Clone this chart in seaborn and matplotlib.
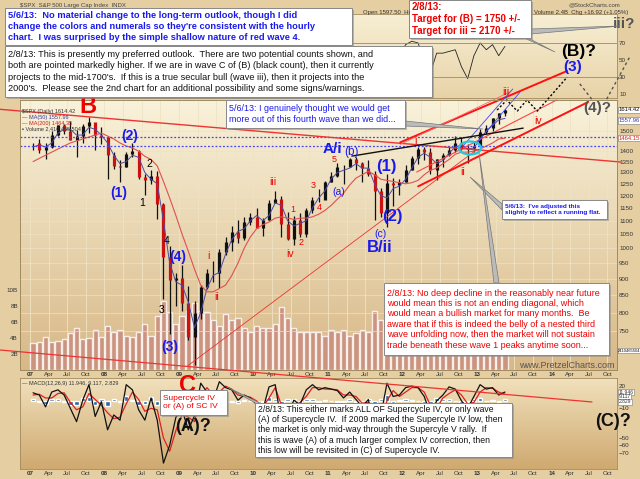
import numpy as np
import pandas as pd
import matplotlib
matplotlib.use("Agg")
import matplotlib.pyplot as plt
import seaborn as sns
from matplotlib.colors import LinearSegmentedColormap
from matplotlib.patches import Rectangle, Ellipse, Polygon

sns.set_style("white")
plt.rcParams["font.family"] = ["Liberation Sans", "DejaVu Sans"]

# monthly SPX values, Jan 2007 .. May 2013
spx_high = [1441, 1461, 1438, 1499, 1535, 1540, 1556, 1504, 1538, 1576, 1545, 1523,
            1472, 1396, 1359, 1397, 1440, 1405, 1292, 1313, 1305, 1170, 1007, 918,
            944, 877, 833, 880, 930, 956, 997, 1040, 1081, 1101, 1113, 1130,
            1150, 1112, 1180, 1220, 1200, 1132, 1120, 1130, 1150, 1196, 1227, 1263,
            1303, 1344, 1333, 1367, 1371, 1346, 1357, 1308, 1230, 1293, 1277, 1270,
            1334, 1378, 1420, 1422, 1415, 1364, 1392, 1427, 1475, 1470, 1434, 1448,
            1509, 1530, 1570, 1598, 1618]
spx_low = [1403, 1390, 1364, 1416, 1476, 1484, 1454, 1371, 1439, 1490, 1407, 1435,
           1271, 1317, 1257, 1324, 1373, 1272, 1201, 1248, 1107, 840, 742, 819,
           805, 729, 667, 783, 869, 889, 870, 978, 992, 1020, 1029, 1085,
           1071, 1045, 1101, 1170, 1040, 1029, 1011, 1040, 1040, 1131, 1173, 1187,
           1257, 1282, 1249, 1325, 1311, 1258, 1283, 1101, 1114, 1075, 1159, 1202,
           1259, 1310, 1340, 1358, 1292, 1267, 1325, 1375, 1396, 1403, 1343, 1398,
           1426, 1485, 1501, 1536, 1582]
spx_close = [1438, 1407, 1421, 1482, 1531, 1503, 1455, 1474, 1527, 1549, 1481, 1468,
             1379, 1331, 1323, 1386, 1400, 1280, 1267, 1283, 1166, 969, 896, 903,
             826, 735, 798, 873, 919, 919, 987, 1021, 1057, 1036, 1096, 1115,
             1074, 1104, 1169, 1187, 1089, 1031, 1102, 1049, 1141, 1183, 1181, 1258,
             1286, 1327, 1326, 1364, 1345, 1321, 1292, 1219, 1131, 1253, 1247, 1258,
             1312, 1366, 1408, 1398, 1310, 1362, 1379, 1407, 1441, 1412, 1416, 1426,
             1498, 1515, 1569, 1598, 1614]
ma50 = [1420, 1430, 1420, 1440, 1490, 1510, 1510, 1480, 1480, 1520, 1510, 1480,
        1440, 1380, 1340, 1350, 1380, 1370, 1300, 1270, 1250, 1100, 950, 890,
        880, 830, 760, 800, 870, 910, 920, 980, 1030, 1060, 1070, 1100,
        1120, 1100, 1120, 1170, 1160, 1100, 1080, 1090, 1100, 1150, 1190, 1220,
        1270, 1300, 1310, 1320, 1340, 1320, 1320, 1250, 1200, 1190, 1230, 1240,
        1270, 1320, 1370, 1390, 1370, 1340, 1355, 1390, 1420, 1430, 1410, 1415,
        1460, 1500, 1530, 1560, 1568]
ma200 = [1350, 1365, 1380, 1395, 1410, 1425, 1440, 1450, 1460, 1470, 1480, 1490,
         1475, 1460, 1440, 1425, 1415, 1400, 1375, 1360, 1330, 1260, 1190, 1120,
         1050, 990, 930, 880, 860, 860, 870, 880, 910, 950, 1000, 1040,
         1070, 1085, 1095, 1110, 1115, 1110, 1105, 1110, 1110, 1115, 1125, 1140,
         1160, 1185, 1210, 1245, 1275, 1290, 1305, 1290, 1270, 1265, 1260, 1255,
         1250, 1255, 1265, 1290, 1310, 1320, 1340, 1360, 1385, 1395, 1395, 1400,
         1410, 1425, 1440, 1460, 1464]
volume_b = [3.4, 3.5, 4.1, 3.5, 3.6, 3.9, 4.6, 5.3, 3.9, 4.0, 5.0, 4.1,
            5.5, 4.8, 5.0, 4.3, 4.1, 4.8, 5.8, 4.3, 6.7, 8.6, 7.2, 5.8,
            6.7, 7.4, 8.4, 7.4, 7.2, 6.2, 5.5, 7.0, 6.2, 6.5, 5.3, 4.8,
            5.5, 5.3, 5.3, 5.8, 7.9, 6.5, 5.3, 4.8, 4.8, 4.8, 4.8, 4.3,
            5.0, 4.8, 5.0, 4.3, 4.6, 5.0, 4.8, 7.4, 6.2, 5.5, 4.8, 4.3,
            4.6, 4.3, 4.1, 4.1, 4.6, 4.6, 3.8, 3.4, 4.1, 4.1, 4.1, 4.1,
            4.1, 4.1, 3.8, 4.1, 3.8]
rsi14 = [60, 45, 55, 68, 70, 55, 40, 50, 62, 58, 40, 48,
         30, 42, 45, 60, 62, 35, 42, 52, 35, 25, 38, 48,
         40, 30, 55, 65, 60, 52, 68, 62, 60, 48, 58, 60,
         40, 58, 70, 65, 35, 35, 55, 42, 65, 66, 55, 70,
         65, 62, 55, 62, 48, 45, 50, 30, 40, 60, 50, 55,
         68, 72, 70, 50, 35, 58, 58, 60, 62, 42, 28, 55,
         70, 62, 68, 55, 66]
macd_line = [11, 8, -8, 12, 15, 8, -10, -28, 1, 22, -21, -1,
             -39, -19, -26, 22, 15, -12, -26, 4, -26, -84, -60, -22,
             -12, -39, -20, 24, 12, 1, 26, 18, 15, 1, 8, 4,
             -5, -12, 19, 22, -30, -19, 1, -5, 15, 22, 15, 18,
             16, 14, 4, 12, 2, -8, 2, -40, -20, 24, 6, 8,
             18, 20, 18, 6, -18, 0, 8, 19, 16, 0, -10, 6,
             22, 16, 18, 8, 12]
macd_signal = [8, 9, 4, 4, 10, 11, -2, -12, -8, 10, 2, -6,
               -16, -24, -22, -4, 12, 2, -14, -10, -12, -50, -68, -40,
               -18, -22, -28, 6, 18, 8, 12, 20, 16, 8, 6, 5,
               0, -8, 4, 18, -6, -24, -8, -2, 6, 18, 18, 16,
               16, 15, 8, 8, 6, -3, -2, -22, -28, 0, 14, 6,
               12, 18, 18, 12, -6, -10, 4, 10, 15, 8, -4, -2,
               12, 18, 17, 12, 9]
macd_hist = [2, -1, -4, 3, 2, -1, -5, -6, 4, 5, -6, 2,
             -7, 3, -2, 7, 1, -5, -4, 5, -5, -12, 4, 8,
             3, -5, 3, 6, -2, -3, 5, -1, -1, -3, 1, 0,
             -2, -1, 5, 2, -8, 2, 3, -1, 3, 2, -1, 1,
             0, -1, -2, 2, -2, -2, 2, -6, 3, 8, -3, 1,
             3, 1, 0, -3, -4, 4, 2, 3, 0, -3, -2, 3,
             4, 0, 1, -2, 3]

df = pd.DataFrame({"high": spx_high, "low": spx_low, "close": spx_close,
                   "ma50": ma50, "ma200": ma200, "vol": volume_b, "rsi": rsi14,
                   "macd": macd_line, "signal": macd_signal, "hist": macd_hist})
df["x"] = 2007 + (np.arange(len(df)) + 0.5) / 12
df["open"] = df["close"].shift(1).fillna(spx_close[0])

# elliott wave labels (text, year, price, colour, size, bold)
RED, BLUE, GRAY = "#ee0000", "#1a1aee", "#555555"
wave_labels = [
    ("B", 2007.78, 1631, RED, 17, True), ("(2)", 2008.34, 1474, BLUE, 10, True),
    ("(1)", 2008.19, 1209, BLUE, 10, True), ("2", 2008.60, 1338, "black", 7.5, False),
    ("1", 2008.50, 1168, "black", 7.5, False), ("4", 2008.84, 1024, "black", 7.5, False),
    ("(4)", 2008.99, 969, BLUE, 10, True), ("3", 2008.76, 808, "black", 7.5, False),
    ("(3)", 2008.87, 711, BLUE, 10, True), ("C", 2009.12, 622, RED, 17, True),
    ("i", 2009.39, 972, RED, 7.5, False), ("ii", 2009.51, 846, RED, 7.5, False),
    ("iii", 2010.26, 1257, RED, 7.5, False), ("iv", 2010.49, 979, RED, 7.5, False),
    ("1", 2010.53, 1145, RED, 6.5, False), ("2", 2010.64, 1020, RED, 6.5, False),
    ("3", 2010.80, 1243, RED, 6.5, False), ("4", 2010.88, 1152, RED, 6.5, False),
    ("5", 2011.08, 1362, RED, 6.5, False), ("A/i", 2011.06, 1410, BLUE, 11, True),
    ("(b)", 2011.31, 1398, BLUE, 8.5, False), ("(a)", 2011.15, 1213, BLUE, 7.5, False),
    ("(1)", 2011.79, 1329, BLUE, 12, True), ("(2)", 2011.87, 1116, BLUE, 12, True),
    ("(c)", 2011.71, 1049, BLUE, 7.5, False), ("B/ii", 2011.70, 1002, BLUE, 12, True),
    ("i", 2012.17, 1449, RED, 7.5, False), ("ii", 2012.81, 1302, RED, 7.5, False),
    ("i", 2012.80, 1420, RED, 5.5, False),
    ("iii", 2013.38, 1718, RED, 7.5, False), ("iv", 2013.82, 1553, RED, 7.5, False),
    ("(3)", 2014.29, 1874, BLUE, 11, True), ("(B)?", 2014.36, 1980, "black", 12.5, True),
    ("(4)?", 2014.62, 1624, GRAY, 11, True), ("iii?", 2014.98, 2176, GRAY, 11, True),
]
macd_labels = [("(A)?", 2009.19, -35), ("(C)?", 2014.83, -28)]

# trend / channel lines (year0, price0, year1, price1, colour, width)
trend_lines = [
    (2006.60, 1618, 2014.93, 1348, "#ee3333", 1.0),
    (2009.12, 666, 2013.00, 1408, "#ee3333", 0.6),
    (2011.97, 1443, 2014.21, 1848, "#ff1111", 1.4),
    (2012.21, 1239, 2014.49, 1659, "#ff1111", 1.4),
    (2012.19, 1302, 2014.07, 1671, "#ff4444", 0.8),
    (2011.97, 1433, 2013.44, 1718, "#ff6666", 0.6),
    (2012.81, 1424, 2013.48, 1736, "#4444ff", 0.6),
    (2013.00, 1443, 2013.58, 1718, "#4444ff", 0.6),
    (2011.32, 1376, 2013.62, 1516, "#111111", 1.0),
]
proj_black_x = [2013.27, 2013.40, 2013.54, 2013.67, 2013.81, 2014.21]
proj_black_p = [1614, 1671, 1608, 1671, 1608, 1809]
proj_gray = [([2014.38, 2014.54], [1767, 1676]), ([2014.74, 2015.05], [1676, 1940])]
blue_levels = [1470, 1425]

W, H = 640, 479


def rect(l, t, r, b):
    return [l / W, 1 - b / H, (r - l) / W, (b - t) / H]


fig = plt.figure(figsize=(6.4, 4.79), dpi=100, facecolor="#E4CEA2")


def panel(box, top_col, bot_col, z):
    bg = fig.add_axes(rect(*box), zorder=z)
    cmap = LinearSegmentedColormap.from_list("tan", [top_col, bot_col])
    bg.imshow(np.linspace(0, 1, 200).reshape(-1, 1), cmap=cmap, aspect="auto", extent=[0, 1, 0, 1])
    bg.set_axis_off()
    ax = fig.add_axes(rect(*box), zorder=z + 0.5)
    ax.set_facecolor("none")
    for s in ax.spines.values():
        s.set_color("#a08a60")
        s.set_linewidth(0.6)
    ax.tick_params(length=0, labelsize=4.5, colors="#333333", pad=1.5)
    return ax


xlim = (2006.866, 2014.879)
qticks = np.arange(2007, 2015, 0.25)
qlabels = [f"{int(q) % 100:02d}" if q % 1 == 0 else {0.25: "Apr", 0.5: "Jul", 0.75: "Oct"}[q % 1] for q in qticks]

# RSI panel (mostly covered by notes)
ax_r = panel((20, 14, 617, 98), "#F7EFD4", "#E8D3A8", 1)
sns.lineplot(x=df["x"], y=df["rsi"], ax=ax_r, color="#222222", lw=0.6)
for lvl in (70, 30):
    ax_r.axhline(lvl, color="#9a8a70", lw=0.6)
ax_r.set_xlim(xlim)
ax_r.set_ylim(5.3, 104)
ax_r.set_xticks([])
ax_r.yaxis.tick_right()
ax_r.set_yticks([10, 30, 50, 70])
ax_r.set_xlabel("")
ax_r.set_ylabel("")

# price panel: volume behind, price on top
ax_v = panel((20, 100, 617, 370), "#F9F2DA", "#D8B887", 2)
ax_v.bar(df["x"], df["vol"], width=0.07, color="#c98a7c", alpha=0.8)
ax_v.set_xlim(xlim)
ax_v.set_ylim(0, 33.75)
ax_v.set_yticks([2, 4, 6, 8, 10])
ax_v.set_yticklabels(["2B", "4B", "6B", "8B", "10B"])
ax_v.set_xticks(qticks)
ax_v.grid(axis="x", color="#efe3c3", lw=0.6)
ax_v.tick_params(labelbottom=False)

ax_p = fig.add_axes(rect(20, 100, 617, 370), zorder=3)
ax_p.set_facecolor("none")
for s in ax_p.spines.values():
    s.set_color("#a08a60")
    s.set_linewidth(0.6)
ax_p.set_yscale("log")
ax_p.set_xlim(xlim)
ax_p.set_ylim(656, 1671)
ax_p.yaxis.tick_right()
pticks = list(range(750, 1401, 50)) + [1500]
ax_p.set_yticks(pticks)
ax_p.set_yticklabels([str(t) for t in pticks])
ax_p.yaxis.set_minor_locator(matplotlib.ticker.NullLocator())
ax_p.set_xticks(qticks)
ax_p.set_xticklabels(qlabels)
for lab in ax_p.get_xticklabels():
    if lab.get_text().isdigit():
        lab.set_fontweight("bold")
ax_p.tick_params(length=0, labelsize=4.5, colors="#333333", pad=1.5)
ax_p.grid(axis="y", color="#eee2c2", lw=0.5)

up = df["close"] >= df["open"]
ax_p.vlines(df["x"], df["low"], df["high"], color="#111111", lw=0.9)
ax_p.vlines(df["x"][up], df["open"][up], df["close"][up], color="#111111", lw=2.3)
ax_p.vlines(df["x"][~up], df["open"][~up], df["close"][~up], color="#cc1111", lw=2.3)
sns.lineplot(x=df["x"], y=df["ma50"], ax=ax_p, color="#4a4aa8", lw=0.7)
sns.lineplot(x=df["x"], y=df["ma200"], ax=ax_p, color="#e05050", lw=0.8)
ax_p.set_xlabel("")
ax_p.set_ylabel("")

for lvl in blue_levels:
    ax_p.axhline(lvl, color="#4444ff", lw=0.9, ls=(0, (1.5, 1.5)))
for x0, p0, x1, p1, c, w in trend_lines:
    ax_p.plot([x0, x1], [p0, p1], color=c, lw=w, clip_on=False)
ax_p.plot(proj_black_x, proj_black_p, color="black", lw=1.0, ls=(0, (1.5, 1.5)), clip_on=False)
for gx, gp in proj_gray:
    ax_p.plot(gx, gp, color=GRAY, lw=1.0, ls=(0, (2, 2)), clip_on=False)
for t, xx, pp, c, s, b in wave_labels:
    ax_p.text(xx, pp, t, color=c, fontsize=s, fontweight="bold" if b else "normal",
              ha="center", va="center")

# right-edge value flags
ytr = ax_p.get_yaxis_transform()
for val, txt, col in [(1614.42, "1614.42", "#111111"), (1557.96, "1557.96", "#3a3a9a"), (1464.15, "1464.15", "#cc2222")]:
    ax_p.text(1.003, val, txt, transform=ytr, fontsize=4.2, color=col, va="center", ha="left",
              bbox=dict(fc="white", ec="#777777", lw=0.4, pad=0.6))
ax_v.text(1.002, 2.41, "2410465504", transform=ax_v.get_yaxis_transform(), fontsize=3.0, color="#111111",
          va="center", ha="left", bbox=dict(fc="white", ec="#777777", lw=0.4, pad=0.4))

# MACD panel
ax_m = panel((20, 378, 617, 469), "#F1E1BC", "#CFA970", 2)
ax_m.bar(df["x"], df["hist"], width=0.06, color="#2a66a8")
sns.lineplot(x=df["x"], y=df["signal"], ax=ax_m, color="#e02020", lw=0.9)
sns.lineplot(x=df["x"], y=df["macd"], ax=ax_m, color="#111111", lw=0.9)
ax_m.set_xlim(xlim)
ax_m.set_ylim(-92, 31)
ax_m.yaxis.tick_right()
ax_m.set_yticks([20, -10, -50, -60, -70])
ax_m.set_xticks(qticks)
ax_m.set_xticklabels(qlabels)
for lab in ax_m.get_xticklabels():
    if lab.get_text().isdigit():
        lab.set_fontweight("bold")
ax_m.set_xlabel("")
ax_m.set_ylabel("")
for t, xx, mv in macd_labels:
    ax_m.text(xx, mv, t, fontsize=13, fontweight="bold", color="#111111", ha="center", va="center", clip_on=False)
mtr = ax_m.get_yaxis_transform()
for val, txt in [(11.946, "11.946"), (5.5, "9.117"), (-1.0, "2.829")]:
    ax_m.text(1.003, val, txt, transform=mtr, fontsize=3.6, color="#333333", va="center", ha="left",
              bbox=dict(fc="white", ec="#777777", lw=0.4, pad=0.4))

# overlay in pixel space for the notes
ax_o = fig.add_axes([0, 0, 1, 1], zorder=10)
ax_o.set_xlim(0, W)
ax_o.set_ylim(H, 0)
ax_o.set_axis_off()
ax_o.set_facecolor("none")

ax_o.text(20, 5, "$SPX  S&P 500 Large Cap Index  INDX", fontsize=4.3, color="#444444", va="center")
ax_o.text(620, 5, "@StockCharts.com", fontsize=4.3, color="#444444", va="center", ha="right")
ax_o.text(363, 12, "Open 1597.50  Hi", fontsize=4.3, color="#333333", va="center", ha="left")
ax_o.text(534, 12, "Volume 2.4B  Chg +16.92 (+1.05%)", fontsize=4.3, color="#333333", va="center", ha="left")
ax_o.text(22, 111, "$SPX (Daily) 1614.42", fontsize=4.0, color="#333333", va="center")
ax_o.text(22, 117, "— MA(50) 1557.96", fontsize=4.0, color="#3a3a9a", va="center")
ax_o.text(22, 123, "— MA(200) 1464.35", fontsize=4.0, color="#cc2222", va="center")
ax_o.text(22, 129, "▪ Volume 2,410,465,504", fontsize=4.0, color="#333333", va="center")
ax_o.text(22, 384, "— MACD(12,26,9) 11.946, 9.117, 2.829", fontsize=4.0, color="#333333", va="center")
ax_o.text(615, 365, "www.PretzelCharts.com", fontsize=6.5, color="#555555", va="center", ha="right")

ax_o.plot([0, 592], [350, 402], color="#ee3333", lw=0.9)
ax_o.add_patch(Ellipse((470, 148), 22, 13, fc="none", ec="#22c8dd", lw=1.6))

pointers = [
    [(405, 121), (405, 126), (483, 129)],
    [(520, 36), (528, 38), (555, 52)],
    [(531, 29), (531, 34), (620, 26)],
    [(502, 204), (502, 210), (470, 177)],
    [(494, 283), (499, 283), (479, 153)],
    [(257, 404), (262, 404), (227, 387)],
]
for pts in pointers:
    ax_o.add_patch(Polygon(pts, closed=True, fc="#bbbbbb", ec="#777777", lw=0.5))


def note(x0, y0, x1, y1, text, color, size, bold=False, ls=1.25):
    ax_o.add_patch(Rectangle((x0 + 2, y0 + 2), x1 - x0, y1 - y0, fc="#8a8a8a", ec="none", alpha=0.55))
    ax_o.add_patch(Rectangle((x0, y0), x1 - x0, y1 - y0, fc="white", ec="#888888", lw=0.7))
    ax_o.text(x0 + 3, (y0 + y1) / 2, text, color=color, fontsize=size,
              fontweight="bold" if bold else "normal", va="center", ha="left", linespacing=ls)


note(5, 8, 352, 45,
     "5/6/13:  No material change to the long-term outlook, though I did\n"
     "change the colors and numerals so they're consistent with the hourly\n"
     "chart.  I was surprised by the simple shallow nature of red wave 4.",
     "#1a1aee", 6.65, bold=True, ls=1.25)
note(5, 46, 432, 97,
     "2/8/13: This is presently my preferred outlook.  There are two potential counts shown, and\n"
     "both are pointed markedly higher. If we are in wave C of (B) (black count), then it currently\n"
     "projects to the mid-1700's.  If this is a true secular bull (wave iii), then it projects into the\n"
     "2000's.  Please see the 2nd chart for an additional possibility and some signs/warnings.",
     "#111111", 6.6, ls=1.3)
note(409, 0, 531, 38,
     "2/8/13:\nTarget for (B) = 1750 +/-\nTarget for iii = 2170 +/-",
     "#ee0000", 7.0, bold=True)
note(226, 100, 405, 128,
     "5/6/13: I genuinely thought we would get\nmore out of this fourth wave than we did...",
     "#1a1aee", 6.4)
note(384, 283, 609, 355,
     "2/8/13: No deep decline in the reasonably near future\n"
     "would mean this is not an ending diagonal, which\n"
     "would mean a bullish market for many months.  Be\n"
     "aware that if this is indeed the belly of a nested third\n"
     "wave unfolding now, then the market will not sustain\n"
     "trade beneath these wave 1 peaks anytime soon...",
     "#ee0000", 6.5, ls=1.2)
note(502, 200, 607, 219,
     "5/6/13:  I've adjusted this\nslightly to reflect a running flat.",
     "#1a1aee", 4.6, bold=True)
note(160, 390, 227, 415, "Supercycle IV\nor (A) of SC IV", "#ee0000", 6.0)
note(255, 403, 512, 457,
     "2/8/13: This either marks ALL OF Supercycle IV, or only wave\n"
     "(A) of Supercycle IV.  If 2009 marked the Supercyle IV low, then\n"
     "the market is only mid-way through the Supercyle V rally.  If\n"
     "this is wave (A) of a much larger complex IV correction, then\n"
     "this low will be revisited in (C) of Supercycle IV.",
     "#111111", 6.25, ls=1.2)

fig.savefig("out.png", dpi=100, facecolor=fig.get_facecolor())
